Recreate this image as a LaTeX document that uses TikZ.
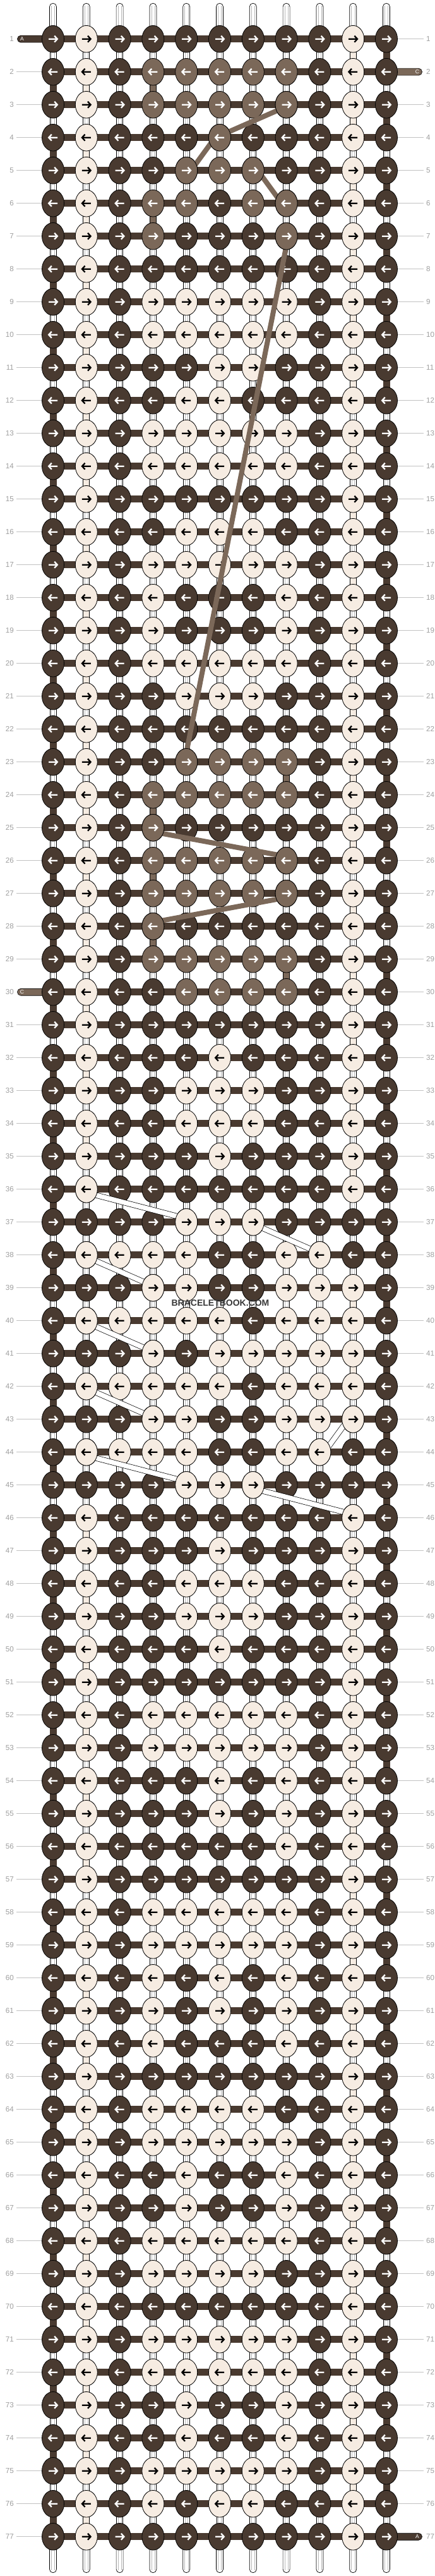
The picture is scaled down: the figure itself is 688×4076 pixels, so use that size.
\documentclass[tikz,border=0pt]{standalone}
\usepackage{fontspec}
\setmainfont{Liberation Sans}
\usetikzlibrary{calc,shapes.geometric}

\definecolor{cd}{HTML}{493A30}
\definecolor{cl}{HTML}{F6ECE2}
\definecolor{cm}{HTML}{7B6859}
\colorlet{ad}{white}
\colorlet{al}{black}
\colorlet{am}{white}
\definecolor{labgray}{HTML}{9E9E9E}
\definecolor{rulegray}{HTML}{C2C2C2}

\tikzset{
  knot/.style={ellipse, draw=black, line width=0.8pt, minimum width=35pt, minimum height=42.6pt, inner sep=0pt},
  arrowline/.style={line width=2.3pt, line join=miter},
  tube/.style={draw=black, line width=0.7pt, fill=white},
  tubeline/.style={draw=black!28, line width=0.5pt},
  gapfill/.style={draw=black, line width=0.7pt, fill=#1},
  gapdark/.style={draw=cd, line width=0.7pt, fill=cd},
  bar/.style={line width=11pt, draw=cd},
  threadend/.style={draw=black, line width=0.6pt, fill=#1, rounded corners=5.4pt},
  bandc/.style={line width=8pt, draw=cm},
  bandb/.style={line width=9pt, draw=black, postaction={draw=white, line width=7.6pt}},
  rowlab/.style={text=labgray, font=\fontsize{11.6}{12}\selectfont, inner sep=0pt},
  rowline/.style={draw=rulegray, line width=0.8pt},
  endlab/.style={text=white, font=\fontsize{8.5}{9}\selectfont, inner sep=0pt},
  mark-text/.style={text=black!78, font=\bfseries\fontsize{14}{14}\selectfont, inner sep=0pt},
}

% one knot with its arrow
\newcommand\knotat[3]{%
  \node[knot, fill=c#3] (k-#1-#2) at (p-#1-#2) {};
  \ifodd#1\relax\def\kdir{1}\else\def\kdir{-1}\fi
  \begin{scope}[shift={(p-#1-#2)}, xscale=\kdir]
    \draw[arrowline, draw=a#3] (-7,0) -- (6.4,0) (2.2,-5) -- (6.8,0) -- (2.2,5);
  \end{scope}}

\begin{document}
\begin{tikzpicture}[x=1pt, y=-1pt]
\useasboundingbox (0,0) rectangle (688,4076);

% knot positions
\foreach \rn in {1,...,77}
  \foreach \cn in {1,...,11}
    \coordinate (p-\rn-\cn) at ({31.2+52.8*\cn}, {9.7+52*\rn});

% warp strings, top and bottom
\foreach \cn in {1,...,11} {
  \draw[tube, rounded corners=5.4pt] ($(p-1-\cn)+(-5.5,0)$) -- ($(p-1-\cn)+(-5.5,-56.5)$)
    -- ($(p-1-\cn)+(5.5,-56.5)$) -- ($(p-1-\cn)+(5.5,0)$);
  \draw[tubeline] ($(p-1-\cn)+(-2.6,0)$) -- ($(p-1-\cn)+(-2.6,-53)$)
    ($(p-1-\cn)+(2.6,0)$) -- ($(p-1-\cn)+(2.6,-53)$);
  \draw[tube, rounded corners=5.4pt] ($(p-77-\cn)+(-5.5,0)$) -- ($(p-77-\cn)+(-5.5,57)$)
    -- ($(p-77-\cn)+(5.5,57)$) -- ($(p-77-\cn)+(5.5,0)$);
  \draw[tubeline] ($(p-77-\cn)+(-2.6,0)$) -- ($(p-77-\cn)+(-2.6,53.5)$)
    ($(p-77-\cn)+(2.6,0)$) -- ($(p-77-\cn)+(2.6,53.5)$);
}

% gaps between rows
\foreach \rn in {1,...,76} {
  \pgfmathtruncatemacro\sn{\rn+1}
  \foreach \cn in {1,...,11} {
    \draw[tube] ($(p-\rn-\cn)+(-5,0)$) rectangle ($(p-\sn-\cn)+(5,0)$);
    \draw[tubeline] ($(p-\rn-\cn)+(-2.3,0)$) -- ($(p-\sn-\cn)+(-2.3,0)$)
      ($(p-\rn-\cn)+(2.3,0)$) -- ($(p-\sn-\cn)+(2.3,0)$);
  }
}
% A turning at the edges
\foreach \rn in {2,4,...,76} {
  \pgfmathtruncatemacro\sn{\rn+1}
  \draw[gapdark] ($(p-\rn-1)+(-5,0)$) rectangle ($(p-\sn-1)+(5,0)$);
}
\foreach \rn in {1,3,...,75} {
  \pgfmathtruncatemacro\sn{\rn+1}
  \draw[gapdark] ($(p-\rn-11)+(-5,0)$) rectangle ($(p-\sn-11)+(5,0)$);
}
% light thread
\foreach \rn in {2,4,...,34,46,48,...,76} {
  \pgfmathtruncatemacro\sn{\rn+1}
  \draw[gapfill=cl] ($(p-\rn-2)+(-5,0)$) rectangle ($(p-\sn-2)+(5,0)$);
}
\foreach \rn in {1,3,...,35,39,41,47,49,...,75} {
  \pgfmathtruncatemacro\sn{\rn+1}
  \draw[gapfill=cl] ($(p-\rn-10)+(-5,0)$) rectangle ($(p-\sn-10)+(5,0)$);
}
% medium thread
\foreach \rn/\cn in {2/4,6/4,23/8,24/4,26/4,28/4,29/8} {
  \pgfmathtruncatemacro\sn{\rn+1}
  \draw[gapfill=cm] ($(p-\rn-\cn)+(-5,0)$) rectangle ($(p-\sn-\cn)+(5,0)$);
}

% rows
\foreach \rn in {1,...,77}
  \draw[bar] (p-\rn-1) -- (p-\rn-11);

% loose ends
\draw[threadend=cd] ($(p-1-1)+(0,-5.5)$) -| ($(p-1-1)+(-56.5,5.5)$) -- ($(p-1-1)+(0,5.5)$);
\node[endlab] (end-a1) at ($(p-1-1)+(-49,0)$) {A};
\draw[threadend=cm] ($(p-2-11)+(0,-5.5)$) -| ($(p-2-11)+(56.5,5.5)$) -- ($(p-2-11)+(0,5.5)$);
\node[endlab] (end-c1) at ($(p-2-11)+(49,0)$) {C};
\draw[threadend=cm] ($(p-30-1)+(0,-5.5)$) -| ($(p-30-1)+(-56.5,5.5)$) -- ($(p-30-1)+(0,5.5)$);
\node[endlab] (end-c2) at ($(p-30-1)+(-49,0)$) {C};
\draw[threadend=cd] ($(p-77-11)+(0,-5.5)$) -| ($(p-77-11)+(56.5,5.5)$) -- ($(p-77-11)+(0,5.5)$);
\node[endlab] (end-a2) at ($(p-77-11)+(49,0)$) {A};

% knots
\foreach \pat [count=\rn] in {
  {d,l,d,d,d,d,d,d,d,l,d},% 1
  {d,l,d,m,m,m,m,m,d,l,d},
  {d,l,d,m,m,m,m,m,d,l,d},
  {d,l,d,d,d,m,d,d,d,l,d},
  {d,l,d,d,m,m,m,d,d,l,d},% 5
  {d,l,d,m,m,d,m,m,d,l,d},
  {d,l,d,m,d,d,d,m,d,l,d},
  {d,l,d,d,d,d,d,d,d,l,d},
  {d,l,d,l,l,l,l,l,d,l,d},
  {d,l,d,l,l,l,l,l,d,l,d},% 10
  {d,l,d,d,d,l,l,d,d,l,d},
  {d,l,d,d,l,l,d,d,d,l,d},
  {d,l,d,l,l,l,l,l,d,l,d},
  {d,l,d,l,l,l,l,l,d,l,d},
  {d,l,d,d,d,d,d,d,d,l,d},% 15
  {d,l,d,d,l,l,l,d,d,l,d},
  {d,l,d,l,l,l,l,l,d,l,d},
  {d,l,d,l,d,d,d,l,d,l,d},
  {d,l,d,l,d,d,d,l,d,l,d},
  {d,l,d,l,l,l,l,l,d,l,d},% 20
  {d,l,d,d,l,l,l,d,d,l,d},
  {d,l,d,d,d,d,d,d,d,l,d},
  {d,l,d,d,m,m,m,m,d,l,d},
  {d,l,d,m,m,m,m,m,d,l,d},
  {d,l,d,m,d,d,d,d,d,l,d},% 25
  {d,l,d,m,m,m,m,m,d,l,d},
  {d,l,d,m,m,m,m,m,d,l,d},
  {d,l,d,m,d,d,d,d,d,l,d},
  {d,l,d,m,m,m,m,m,d,l,d},
  {d,l,d,d,m,m,m,m,d,l,d},% 30
  {d,l,d,d,d,d,d,d,d,l,d},
  {d,l,d,d,d,l,d,d,d,l,d},
  {d,l,d,d,l,l,l,d,d,l,d},
  {d,l,d,d,l,l,l,d,d,l,d},
  {d,l,d,d,d,l,d,d,d,l,d},% 35
  {d,l,d,d,d,d,d,d,d,l,d},
  {d,d,d,d,l,l,l,d,d,d,d},
  {d,l,l,l,l,d,d,l,l,d,d},
  {d,d,d,l,l,d,d,l,l,l,d},
  {d,l,l,l,l,l,d,l,l,l,d},% 40
  {d,d,d,l,d,l,l,l,l,l,d},
  {d,l,l,l,l,l,d,l,l,l,d},
  {d,d,d,l,l,d,d,l,l,l,d},
  {d,l,l,l,l,d,d,l,l,d,d},
  {d,d,d,d,l,l,l,d,d,d,d},% 45
  {d,l,d,d,d,d,d,d,d,l,d},
  {d,l,d,d,d,l,d,d,d,l,d},
  {d,l,d,d,l,l,l,d,d,l,d},
  {d,l,d,d,l,l,l,d,d,l,d},
  {d,l,d,d,d,l,d,d,d,l,d},% 50
  {d,l,d,d,d,d,d,d,d,l,d},
  {d,l,d,l,l,l,l,l,d,l,d},
  {d,l,d,l,l,l,l,l,d,l,d},
  {d,l,d,d,d,l,d,l,d,l,d},
  {d,l,d,d,d,l,d,l,d,l,d},% 55
  {d,l,d,d,d,d,d,l,d,l,d},
  {d,l,d,d,d,d,d,d,d,l,d},
  {d,l,d,l,l,l,l,l,d,l,d},
  {d,l,d,l,l,l,l,l,d,l,d},
  {d,l,d,l,d,l,d,l,d,l,d},% 60
  {d,l,d,l,d,l,d,l,d,l,d},
  {d,l,d,l,d,d,d,l,d,l,d},
  {d,l,d,d,d,d,d,d,d,l,d},
  {d,l,d,l,l,l,l,d,d,l,d},
  {d,l,d,l,l,l,l,l,d,l,d},% 65
  {d,l,d,d,l,d,d,l,d,l,d},
  {d,l,d,d,l,d,d,l,d,l,d},
  {d,l,d,l,l,l,l,l,d,l,d},
  {d,l,d,l,l,l,l,d,d,l,d},
  {d,l,d,d,d,d,d,d,d,l,d},% 70
  {d,l,d,l,l,l,l,l,d,l,d},
  {d,l,d,l,l,l,l,l,d,l,d},
  {d,l,d,d,l,d,d,l,d,l,d},
  {d,l,d,d,l,d,d,l,d,l,d},
  {d,l,d,l,l,l,l,l,d,l,d},% 75
  {d,l,d,l,d,l,l,d,d,l,d},
  {d,l,d,d,d,d,d,d,d,l,d}%
}{
  \foreach \kc [count=\cn] in \pat {\knotat{\rn}{\cn}{\kc}}
}

% carried threads
\draw[bandc] ($(k-3-8)+(-14,9)$) -- ($(k-4-6)+(14,-9)$);
\draw[bandc] ($(k-4-6)+(-14,9)$) -- ($(k-5-5)+(14,-9)$);
\draw[bandc] ($(k-5-7)+(14,9)$) -- ($(k-6-8)+(-14,-9)$);
\draw[bandc] ($(k-7-8)+(0,15)$) -- ($(k-23-5)+(0,-15)$);
\draw[bandc] ($(k-25-4)+(14,9)$) -- ($(k-26-8)+(-14,-9)$);
\draw[bandc] ($(k-27-8)+(-14,9)$) -- ($(k-28-4)+(14,-9)$);

\draw[bandb] ($(k-36-2)+(14,9)$) -- ($(k-37-5)+(-14,-9)$);
\draw[bandb] ($(k-37-7)+(14,9)$) -- ($(k-38-9)+(-14,-9)$);
\draw[bandb] ($(k-38-2)+(14,9)$) -- ($(k-39-4)+(-14,-9)$);
\draw[bandb] ($(k-40-2)+(14,9)$) -- ($(k-41-4)+(-14,-9)$);
\draw[bandb] ($(k-42-2)+(14,9)$) -- ($(k-43-4)+(-14,-9)$);
\draw[bandb] ($(k-43-10)+(-14,9)$) -- ($(k-44-9)+(14,-9)$);
\draw[bandb] ($(k-44-2)+(14,9)$) -- ($(k-45-5)+(-14,-9)$);
\draw[bandb] ($(k-45-7)+(14,9)$) -- ($(k-46-10)+(-14,-9)$);

% ends of the carried threads go under their knots
\foreach \rn/\cn/\kc in {3/8/m,4/6/m,5/5/m,5/7/m,6/8/m,7/8/m,23/5/m,25/4/m,26/8/m,27/8/m,28/4/m,
  36/2/l,37/5/l,37/7/l,38/9/l,38/2/l,39/4/l,40/2/l,41/4/l,42/2/l,43/4/l,43/10/l,44/9/l,44/2/l,45/5/l,45/7/l,46/10/l}
  {\knotat{\rn}{\cn}{\kc}}

% row numbers
\foreach \rn in {1,...,77} {
  \node[rowlab, anchor=east] (ll-\rn) at ($(p-\rn-1)+(-62,0)$) {\rn};
  \node[rowlab, anchor=west] (rl-\rn) at ($(p-\rn-11)+(63,0)$) {\rn};
  \ifnum\rn=1\relax\else\ifnum\rn=30\relax\else
    \draw[rowline] ($(ll-\rn.east)+(4,0)$) -- (k-\rn-1.west);
  \fi\fi
  \ifnum\rn=2\relax\else\ifnum\rn=77\relax\else
    \draw[rowline] (k-\rn-11.east) -- ($(rl-\rn.west)+(-4,0)$);
  \fi\fi
}

\node[mark-text] (site) at (349,2062) {BRACELETBOOK.COM};

\end{tikzpicture}
\end{document}
